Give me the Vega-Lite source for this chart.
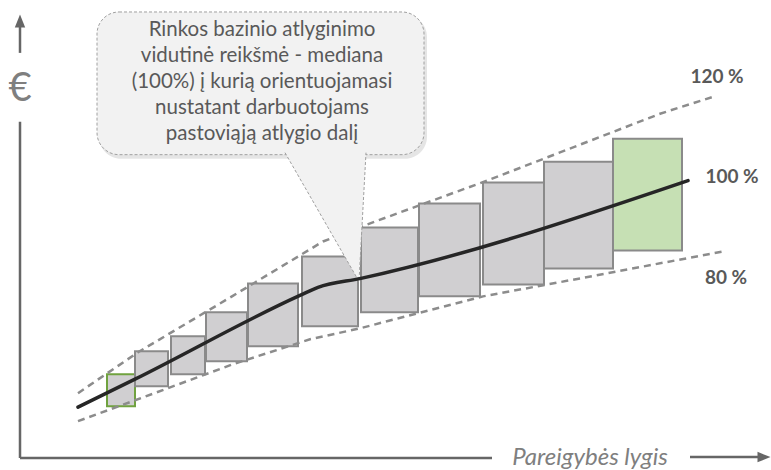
{
  "$schema": "https://vega.github.io/schema/vega-lite/v6.json",
  "width": 771,
  "height": 470,
  "autosize": {"type": "fit", "contains": "padding"},
  "padding": 0,
  "background": "white",
  "config": {"view": {"stroke": null}},
  "datasets": {
    "bubble": [{"x": 97, "x2": 424, "y": 458, "y2": 315}],
    "shadow": [{"x": 99, "x2": 427, "y": 455, "y2": 311}],
    "pointer": [
      {"o": 1, "x": 285, "y": 317},
      {"o": 2, "x": 359, "y": 188},
      {"o": 3, "x": 366, "y": 317}
    ],
    "boxes": [
      {"level": 1, "x": 107, "x2": 135, "y": 95, "y2": 63, "kind": "first"},
      {"level": 2, "x": 135, "x2": 168, "y": 118, "y2": 83, "kind": "grey"},
      {"level": 3, "x": 171, "x2": 205, "y": 133, "y2": 95, "kind": "grey"},
      {"level": 4, "x": 206, "x2": 247, "y": 157, "y2": 108, "kind": "grey"},
      {"level": 5, "x": 248, "x2": 298, "y": 186, "y2": 123, "kind": "grey"},
      {"level": 6, "x": 302, "x2": 358, "y": 213, "y2": 143, "kind": "grey"},
      {"level": 7, "x": 361, "x2": 418, "y": 242, "y2": 157, "kind": "grey"},
      {"level": 8, "x": 419, "x2": 480, "y": 266, "y2": 173, "kind": "grey"},
      {"level": 9, "x": 483, "x2": 544, "y": 287, "y2": 185, "kind": "grey"},
      {"level": 10, "x": 544, "x2": 613, "y": 308, "y2": 201, "kind": "grey"},
      {"level": 11, "x": 613, "x2": 682, "y": 331, "y2": 219, "kind": "green"}
    ],
    "bands": [
      {"series": "120", "x": 78, "y": 76},
      {"series": "120", "x": 138, "y": 117},
      {"series": "120", "x": 232, "y": 173},
      {"series": "120", "x": 323, "y": 228},
      {"series": "120", "x": 367, "y": 245},
      {"series": "120", "x": 487, "y": 289},
      {"series": "120", "x": 580, "y": 325},
      {"series": "120", "x": 660, "y": 356},
      {"series": "120", "x": 713, "y": 373},
      {"series": "80", "x": 78, "y": 48},
      {"series": "80", "x": 130, "y": 67},
      {"series": "80", "x": 233, "y": 105},
      {"series": "80", "x": 310, "y": 130},
      {"series": "80", "x": 360, "y": 141},
      {"series": "80", "x": 483, "y": 173},
      {"series": "80", "x": 580, "y": 191},
      {"series": "80", "x": 723, "y": 218}
    ],
    "median": [
      {"x": 78, "y": 62},
      {"x": 135, "y": 90},
      {"x": 300, "y": 174},
      {"x": 318, "y": 182},
      {"x": 361, "y": 191},
      {"x": 688, "y": 289}
    ],
    "vRules": [
      {"x": 20, "y": 417, "y2": 444},
      {"x": 20, "y": 11, "y2": 348}
    ],
    "hRules": [
      {"x": 20, "x2": 492, "y": 11},
      {"x": 690, "x2": 760, "y": 12}
    ],
    "upArrow": [{"x": 20, "y": 449}],
    "rightArrow": [{"x": 764, "y": 12}],
    "bubbleText": [
      {"x": 262, "y": 440, "t": "Rinkos bazinio atlyginimo"},
      {"x": 262, "y": 414, "t": "vidutinė reikšmė - mediana"},
      {"x": 262, "y": 388, "t": "(100%) į kurią orientuojamasi"},
      {"x": 262, "y": 362, "t": "nustatant darbuotojams"},
      {"x": 262, "y": 336, "t": "pastoviąją atlygio dalį"}
    ],
    "pctLabels": [
      {"x": 717, "y": 393, "t": "120 %"},
      {"x": 732, "y": 293, "t": "100 %"},
      {"x": 726, "y": 191, "t": "80 %"}
    ],
    "euro": [{"x": 20, "y": 381, "t": "€"}],
    "xTitle": [{"x": 590, "y": 11, "t": "Pareigybės lygis"}]
  },
  "layer": [
    {
      "data": {"name": "boxes"},
      "mark": {"type": "rect", "strokeWidth": 2},
      "encoding": {
        "x": {"field": "x", "type": "quantitative", "scale": {"domain": [0, 771], "nice": false, "zero": false}, "axis": null},
        "x2": {"field": "x2"},
        "y": {"field": "y", "type": "quantitative", "scale": {"domain": [0, 470], "nice": false, "zero": false}, "axis": null},
        "y2": {"field": "y2"},
        "fill": {"field": "kind", "type": "nominal", "scale": {"domain": ["first", "grey", "green"], "range": ["#d0cfd1", "#d0cfd1", "#c6e0b4"]}, "legend": null},
        "stroke": {"field": "kind", "type": "nominal", "scale": {"domain": ["first", "grey", "green"], "range": ["#70a23f", "#8a8a8a", "#8a8a8a"]}, "legend": null}
      }
    },
    {
      "data": {"name": "bands"},
      "mark": {"type": "line", "color": "#8c8c8c", "strokeWidth": 2.5, "strokeDash": [7, 5]},
      "encoding": {
        "x": {"field": "x", "type": "quantitative", "axis": null},
        "y": {"field": "y", "type": "quantitative", "axis": null},
        "detail": {"field": "series", "type": "nominal"}
      }
    },
    {
      "data": {"name": "shadow"},
      "mark": {"type": "rect", "cornerRadius": 22, "fill": "#000000", "opacity": 0.1},
      "encoding": {
        "x": {"field": "x", "type": "quantitative", "axis": null},
        "x2": {"field": "x2"},
        "y": {"field": "y", "type": "quantitative", "axis": null},
        "y2": {"field": "y2"}
      }
    },
    {
      "data": {"name": "bubble"},
      "mark": {"type": "rect", "cornerRadius": 22, "fill": "#f2f2f2", "stroke": "#a0a0a0", "strokeWidth": 1, "strokeDash": [3, 2]},
      "encoding": {
        "x": {"field": "x", "type": "quantitative", "axis": null},
        "x2": {"field": "x2"},
        "y": {"field": "y", "type": "quantitative", "axis": null},
        "y2": {"field": "y2"}
      }
    },
    {
      "data": {"name": "pointer"},
      "mark": {"type": "line", "fill": "#f2f2f2", "stroke": "#a0a0a0", "strokeWidth": 1, "strokeDash": [3, 2]},
      "encoding": {
        "x": {"field": "x", "type": "quantitative", "axis": null},
        "y": {"field": "y", "type": "quantitative", "axis": null},
        "order": {"field": "o", "type": "quantitative"}
      }
    },
    {
      "data": {"name": "median"},
      "mark": {"type": "line", "color": "#262626", "strokeWidth": 3.5, "strokeCap": "round", "interpolate": "monotone"},
      "encoding": {
        "x": {"field": "x", "type": "quantitative", "axis": null},
        "y": {"field": "y", "type": "quantitative", "axis": null}
      }
    },
    {
      "data": {"name": "vRules"},
      "mark": {"type": "rule", "color": "#666666", "strokeWidth": 2.5},
      "encoding": {
        "x": {"field": "x", "type": "quantitative", "axis": null},
        "y": {"field": "y", "type": "quantitative", "axis": null},
        "y2": {"field": "y2"}
      }
    },
    {
      "data": {"name": "hRules"},
      "mark": {"type": "rule", "color": "#666666", "strokeWidth": 2.5},
      "encoding": {
        "x": {"field": "x", "type": "quantitative", "axis": null},
        "x2": {"field": "x2"},
        "y": {"field": "y", "type": "quantitative", "axis": null}
      }
    },
    {
      "data": {"name": "upArrow"},
      "mark": {"type": "point", "shape": "M-0.8,1L0,-1L0.8,1Z", "filled": true, "color": "#666666", "opacity": 1, "size": 169},
      "encoding": {
        "x": {"field": "x", "type": "quantitative", "axis": null},
        "y": {"field": "y", "type": "quantitative", "axis": null}
      }
    },
    {
      "data": {"name": "rightArrow"},
      "mark": {"type": "point", "shape": "M-1,-0.8L1,0L-1,0.8Z", "filled": true, "color": "#666666", "opacity": 1, "size": 169},
      "encoding": {
        "x": {"field": "x", "type": "quantitative", "axis": null},
        "y": {"field": "y", "type": "quantitative", "axis": null}
      }
    },
    {
      "data": {"name": "bubbleText"},
      "mark": {"type": "text", "font": "Lato", "fontSize": 20.5, "color": "#595959", "align": "center", "baseline": "middle"},
      "encoding": {
        "x": {"field": "x", "type": "quantitative", "axis": null},
        "y": {"field": "y", "type": "quantitative", "axis": null},
        "text": {"field": "t"}
      }
    },
    {
      "data": {"name": "pctLabels"},
      "mark": {"type": "text", "font": "Lato", "fontSize": 19, "fontWeight": "bold", "color": "#595959", "align": "center", "baseline": "middle"},
      "encoding": {
        "x": {"field": "x", "type": "quantitative", "axis": null},
        "y": {"field": "y", "type": "quantitative", "axis": null},
        "text": {"field": "t"}
      }
    },
    {
      "data": {"name": "euro"},
      "mark": {"type": "text", "font": "Lato", "fontSize": 40, "color": "#7f7f7f", "align": "center", "baseline": "middle"},
      "encoding": {
        "x": {"field": "x", "type": "quantitative", "axis": null},
        "y": {"field": "y", "type": "quantitative", "axis": null},
        "text": {"field": "t"}
      }
    },
    {
      "data": {"name": "xTitle"},
      "mark": {"type": "text", "font": "Lato", "fontSize": 24, "fontStyle": "italic", "color": "#7f7f7f", "align": "center", "baseline": "middle"},
      "encoding": {
        "x": {"field": "x", "type": "quantitative", "axis": null},
        "y": {"field": "y", "type": "quantitative", "axis": null},
        "text": {"field": "t"}
      }
    }
  ]
}
